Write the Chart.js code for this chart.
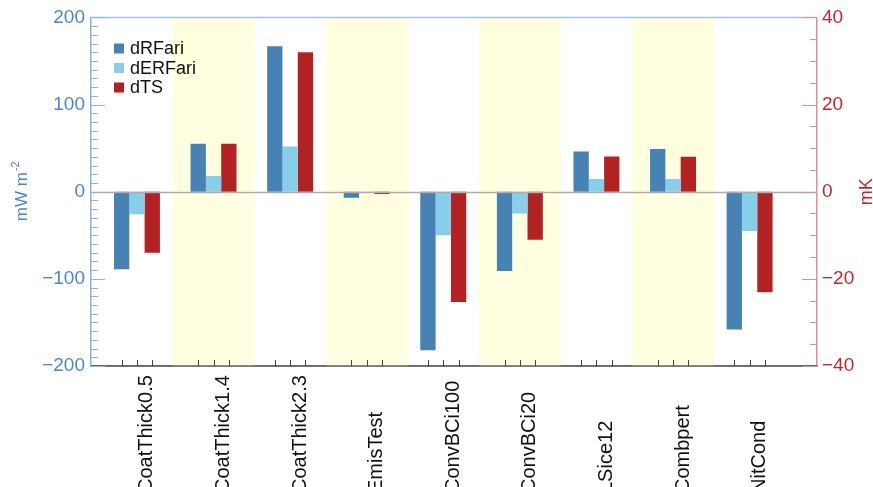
<!DOCTYPE html>
<html>
<head>
<meta charset="utf-8">
<style>
  html, body { margin: 0; padding: 0; background: #ffffff; }
  #wrap { width: 873px; height: 487px; }
</style>
<script src="https://cdn.jsdelivr.net/npm/chart.js@4.4.1/dist/chart.umd.min.js"></script>
</head>
<body>
<div id="wrap"><canvas id="c" width="873" height="487"></canvas></div>
<script>
// Experiments and their responses
const categories = ['CoatThick0.5', 'CoatThick1.4', 'CoatThick2.3', 'EmisTest', 'ConvBCi100',
                    'ConvBCi20', 'LSice12', 'Combpert', 'NitCond'];
const dRFari  = [-89, 55, 167, -7, -182, -91, 46, 49, -158];     // mW m-2
const dERFari = [-26, 18, 52, -1.5, -50, -25, 14.5, 14.5, -45];  // mW m-2
const dTS     = [-14, 11, 32, -0.5, -25.3, -11, 8.1, 8.0, -23.1]; // mK

const leftTicks  = [-200, -100, 0, 100, 200];
const rightTicks = [-40, -20, 0, 20, 40];

const FONT = "'Liberation Sans', Arial, Helvetica, sans-serif";
const BLUE_TXT = '#4a89c5';
const RED_TXT = '#c0282e';
const BLUE_AX = '#8fb4da';
const RED_AX = '#e09090';

const asPoints = arr => arr.map((v, i) => ({ x: i, y: v }));
const fmt = v => (v < 0 ? '\u2212' + Math.abs(v) : String(v));

const decorations = {
  id: 'decorations',
  beforeDatasetsDraw(chart) {
    const { ctx, chartArea: a, scales: { x } } = chart;
    const step = x.getPixelForValue(1) - x.getPixelForValue(0);
    ctx.save();
    ctx.fillStyle = '#ffffe0';
    categories.forEach((c, i) => {
      if (i % 2 === 1) {
        const cx = x.getPixelForValue(i);
        ctx.fillRect(cx - 0.535 * step, a.top, 1.07 * step, a.bottom - a.top);
      }
    });
    ctx.restore();
  },
  afterDatasetsDraw(chart) {
    const { ctx, chartArea: a, scales: { y, y1 } } = chart;
    ctx.save();
    // zero line
    const y0 = Math.round(y.getPixelForValue(0)) + 0.5;
    ctx.strokeStyle = '#b3a9b1';
    ctx.lineWidth = 1.5;
    ctx.beginPath(); ctx.moveTo(a.left, y0); ctx.lineTo(a.right, y0); ctx.stroke();

    // top frame line
    ctx.strokeStyle = '#a3c2e2';
    ctx.lineWidth = 1.5;
    ctx.beginPath(); ctx.moveTo(a.left, a.top); ctx.lineTo(a.right, a.top); ctx.stroke();

    // bottom frame line, over the shaded bands
    ctx.strokeStyle = '#666666';
    ctx.lineWidth = 1.5;
    ctx.beginPath(); ctx.moveTo(a.left, a.bottom); ctx.lineTo(a.right, a.bottom); ctx.stroke();

    // inward ticks, left axis
    ctx.lineWidth = 1;
    ctx.strokeStyle = BLUE_AX;
    for (let v = -200; v <= 200; v += 10) {
      const py = Math.round(y.getPixelForValue(v)) + 0.5;
      const len = v % 100 === 0 ? 14 : 7;
      ctx.beginPath(); ctx.moveTo(a.left, py); ctx.lineTo(a.left + len, py); ctx.stroke();
    }
    // inward ticks, right axis
    ctx.strokeStyle = RED_AX;
    for (let v = -40; v <= 40; v += 5) {
      const py = Math.round(y1.getPixelForValue(v)) + 0.5;
      const len = v % 20 === 0 ? 15 : 7;
      ctx.beginPath(); ctx.moveTo(a.right, py); ctx.lineTo(a.right - len, py); ctx.stroke();
    }
    // ticks under each bar
    ctx.strokeStyle = '#444444';
    chart.data.datasets.forEach((ds, di) => {
      chart.getDatasetMeta(di).data.forEach(bar => {
        const px = Math.round(bar.x) + 0.5;
        ctx.beginPath(); ctx.moveTo(px, a.bottom); ctx.lineTo(px, a.bottom - 6); ctx.stroke();
      });
    });
    ctx.restore();
  },
  afterDraw(chart) {
    const { ctx, chartArea: a, scales: { x } } = chart;
    ctx.save();

    // legend
    ctx.font = '18px ' + FONT;
    ctx.textBaseline = 'middle';
    ctx.textAlign = 'left';
    chart.data.datasets.forEach((ds, i) => {
      const cy = 48.5 + i * 19.5;
      ctx.fillStyle = ds.backgroundColor;
      ctx.fillRect(a.left + 23, cy - 5, 10, 10);
      ctx.fillStyle = '#111111';
      ctx.fillText(ds.label, a.left + 39, cy + 1);
    });

    // category labels, reading upward
    ctx.font = '20px ' + FONT;
    ctx.fillStyle = '#111111';
    ctx.textBaseline = 'alphabetic';
    categories.forEach((c, i) => {
      ctx.save();
      ctx.translate(x.getPixelForValue(i) + 15.5, 493);
      ctx.rotate(-Math.PI / 2);
      ctx.fillText(c, 0, 0);
      ctx.restore();
    });

    // left axis title: mW m-2
    ctx.save();
    const main = 'mW m', sup = '-2';
    ctx.font = '17px ' + FONT;
    const wMain = ctx.measureText(main).width;
    ctx.font = '11px ' + FONT;
    const wSup = ctx.measureText(sup).width;
    const cyT = (a.top + a.bottom) / 2;
    ctx.translate(27, cyT + (wMain + wSup) / 2);
    ctx.rotate(-Math.PI / 2);
    ctx.fillStyle = BLUE_TXT;
    ctx.font = '17px ' + FONT;
    ctx.fillText(main, 0, 0);
    ctx.font = '11px ' + FONT;
    ctx.fillText(sup, wMain + 1, -8);
    ctx.restore();

    // right axis title
    ctx.save();
    ctx.font = '18px ' + FONT;
    ctx.fillStyle = RED_TXT;
    ctx.textAlign = 'center';
    ctx.translate(871.5, (a.top + a.bottom) / 2);
    ctx.rotate(-Math.PI / 2);
    ctx.fillText('mK', 0, 0);
    ctx.restore();

    ctx.restore();
  }
};

new Chart(document.getElementById('c'), {
  type: 'bar',
  data: {
    datasets: [
      { label: 'dRFari',  data: asPoints(dRFari),  backgroundColor: '#4682b4', yAxisID: 'y' },
      { label: 'dERFari', data: asPoints(dERFari), backgroundColor: '#87ceeb', yAxisID: 'y' },
      { label: 'dTS',     data: asPoints(dTS),     backgroundColor: '#b22222', yAxisID: 'y1' }
    ]
  },
  options: {
    responsive: false,
    animation: false,
    events: [],
    layout: { padding: { top: 17, left: 0, right: 0, bottom: 0 } },
    datasets: { bar: { categoryPercentage: 0.6, barPercentage: 1.0, borderWidth: 0 } },
    plugins: { legend: { display: false }, tooltip: { enabled: false } },
    scales: {
      x: {
        type: 'linear',
        offset: false,
        min: -0.6,
        max: 8.88,
        grid: { display: false, drawTicks: false, offset: false },
        border: { display: true, color: '#666666', width: 1.5 },
        afterBuildTicks: s => { s.ticks = categories.map((c, i) => ({ value: i })); },
        ticks: { display: false },
        afterFit: s => { s.height = 121; }
      },
      y: {
        position: 'left',
        min: -200, max: 200,
        grid: { display: false, drawTicks: false },
        border: { display: true, color: BLUE_AX, width: 1.5 },
        afterBuildTicks: s => { s.ticks = leftTicks.map(v => ({ value: v })); },
        ticks: {
          color: BLUE_TXT, padding: 6,
          font: { family: FONT, size: 19 },
          callback: v => fmt(v)
        },
        afterFit: s => { s.width = 91; }
      },
      y1: {
        position: 'right',
        min: -40, max: 40,
        grid: { display: false, drawTicks: false },
        border: { display: true, color: RED_AX, width: 1.5 },
        afterBuildTicks: s => { s.ticks = rightTicks.map(v => ({ value: v })); },
        ticks: {
          color: RED_TXT, padding: 5,
          font: { family: FONT, size: 19 },
          callback: v => fmt(v)
        },
        afterFit: s => { s.width = 56; }
      }
    }
  },
  plugins: [decorations]
});
</script>
</body>
</html>
